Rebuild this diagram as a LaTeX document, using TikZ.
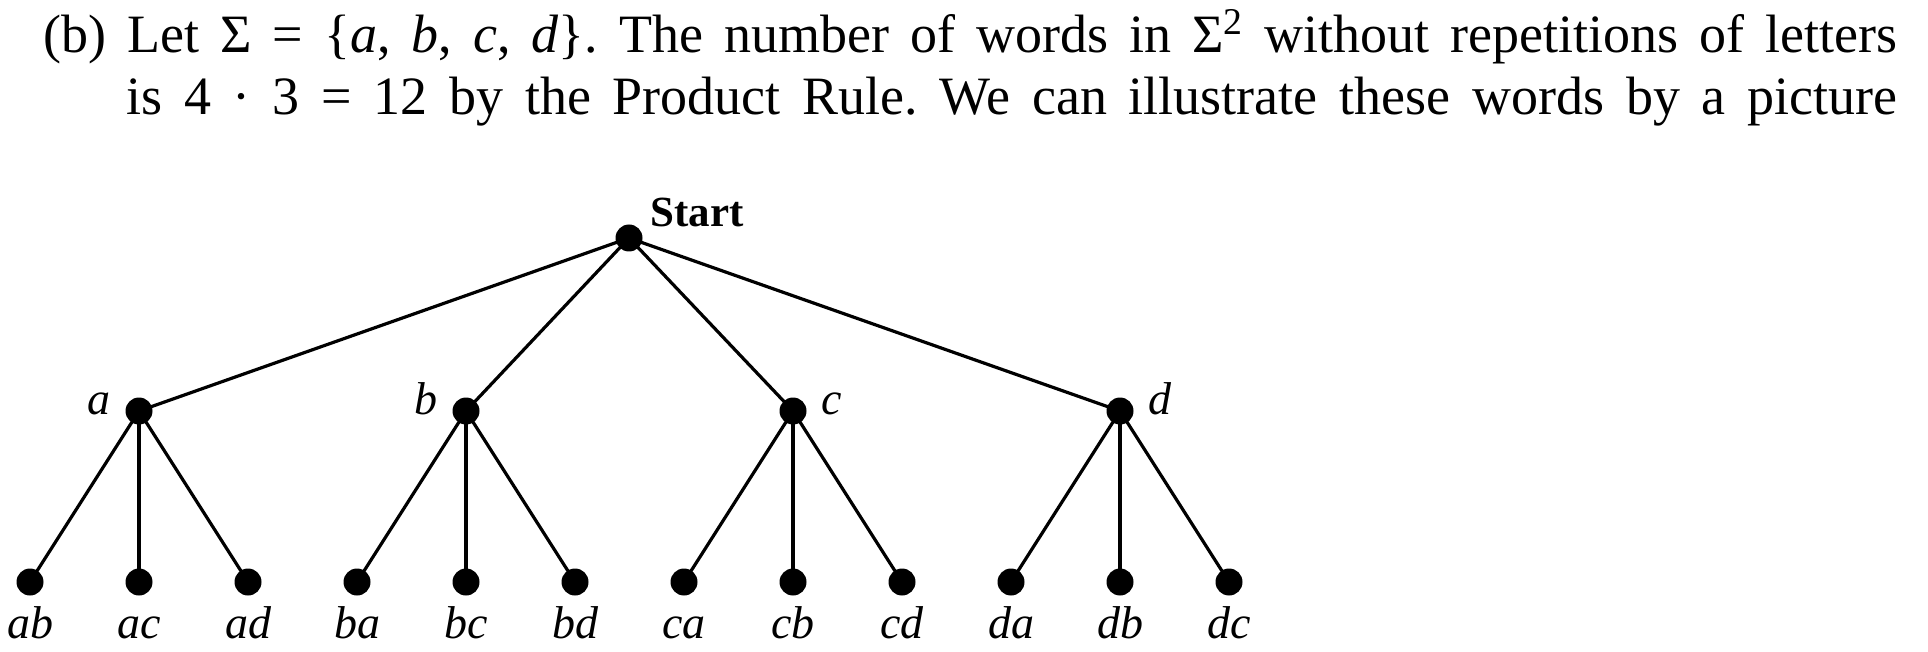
\documentclass[tikz,border=0pt]{standalone}
\usepackage{fontspec}
\setmainfont{Liberation Serif}
\usetikzlibrary{positioning}
\tikzset{
  % 树上的黑点
  dot/.style={circle, fill=black, inner sep=0pt, minimum size=13.5pt},
  % 连线
  branch/.style={line width=1.6pt},
  % 标签
  lab/.style={inner sep=0pt, font=\fontsize{23}{27}\selectfont\itshape},
  startlab/.style={inner sep=0pt, font=\fontsize{21.5}{26}\selectfont\bfseries},
  % 正文
  para/.style={inner sep=0pt, font=\fontsize{27}{31}\selectfont\frenchspacing},
}

\begin{document}
\begin{tikzpicture}[x=0.5pt, y=-0.5pt]
        \useasboundingbox (0,0) rectangle (1928,652);

        % 正文两行
        \node[para, anchor=base west] (line1) at (43,53)
          {\makebox[927pt][s]{(b) Let Σ = \{\textit{a}, \textit{b}, \textit{c}, \textit{d}\}. The number of words in Σ\textsuperscript{2} without repetitions of letters}};
        \node[para, anchor=base west] (line2) at (126,115)
          {\makebox[885.5pt][s]{is 4 · 3 = 12 by the Product Rule. We can illustrate these words by a picture}};

        % 根
        \node[dot] (start) at (629,238) {};
        \node[startlab, anchor=base west] (start-lab) at (650,227) {Start};

        % 第一层
        \node[dot] (a) at (139,411) {};
        \node[dot] (b) at (466,411) {};
        \node[dot] (c) at (793,411) {};
        \node[dot] (d) at (1120,411) {};
        \node[lab, anchor=base east] (a-lab) at (111,415) {a};
        \node[lab, anchor=base east] (b-lab) at (438,415) {b};
        \node[lab, anchor=base west] (c-lab) at (821,415) {c};
        \node[lab, anchor=base west] (d-lab) at (1148,415) {d};

        % 第二层
        \node[dot] (ab) at (30,582) {};
        \node[dot] (ac) at (139,582) {};
        \node[dot] (ad) at (248,582) {};
        \node[dot] (ba) at (357,582) {};
        \node[dot] (bc) at (466,582) {};
        \node[dot] (bd) at (575,582) {};
        \node[dot] (ca) at (684,582) {};
        \node[dot] (cb) at (793,582) {};
        \node[dot] (cd) at (902,582) {};
        \node[dot] (da) at (1011,582) {};
        \node[dot] (db) at (1120,582) {};
        \node[dot] (dc) at (1229,582) {};

        % 叶子标签
        \node[lab, anchor=base] (ab-lab) at (30,638) {ab};
        \node[lab, anchor=base] (ac-lab) at (139,638) {ac};
        \node[lab, anchor=base] (ad-lab) at (248,638) {ad};
        \node[lab, anchor=base] (ba-lab) at (357,638) {ba};
        \node[lab, anchor=base] (bc-lab) at (466,638) {bc};
        \node[lab, anchor=base] (bd-lab) at (575,638) {bd};
        \node[lab, anchor=base] (ca-lab) at (684,638) {ca};
        \node[lab, anchor=base] (cb-lab) at (793,638) {cb};
        \node[lab, anchor=base] (cd-lab) at (902,638) {cd};
        \node[lab, anchor=base] (da-lab) at (1011,638) {da};
        \node[lab, anchor=base] (db-lab) at (1120,638) {db};
        \node[lab, anchor=base] (dc-lab) at (1229,638) {dc};

        % 连接
        \draw[branch] (start.center) -- (a.center);
        \draw[branch] (start.center) -- (b.center);
        \draw[branch] (start.center) -- (c.center);
        \draw[branch] (start.center) -- (d.center);
        \draw[branch] (a.center) -- (ab.center);
        \draw[branch] (a.center) -- (ac.center);
        \draw[branch] (a.center) -- (ad.center);
        \draw[branch] (b.center) -- (ba.center);
        \draw[branch] (b.center) -- (bc.center);
        \draw[branch] (b.center) -- (bd.center);
        \draw[branch] (c.center) -- (ca.center);
        \draw[branch] (c.center) -- (cb.center);
        \draw[branch] (c.center) -- (cd.center);
        \draw[branch] (d.center) -- (da.center);
        \draw[branch] (d.center) -- (db.center);
        \draw[branch] (d.center) -- (dc.center);
\end{tikzpicture}
\end{document}
